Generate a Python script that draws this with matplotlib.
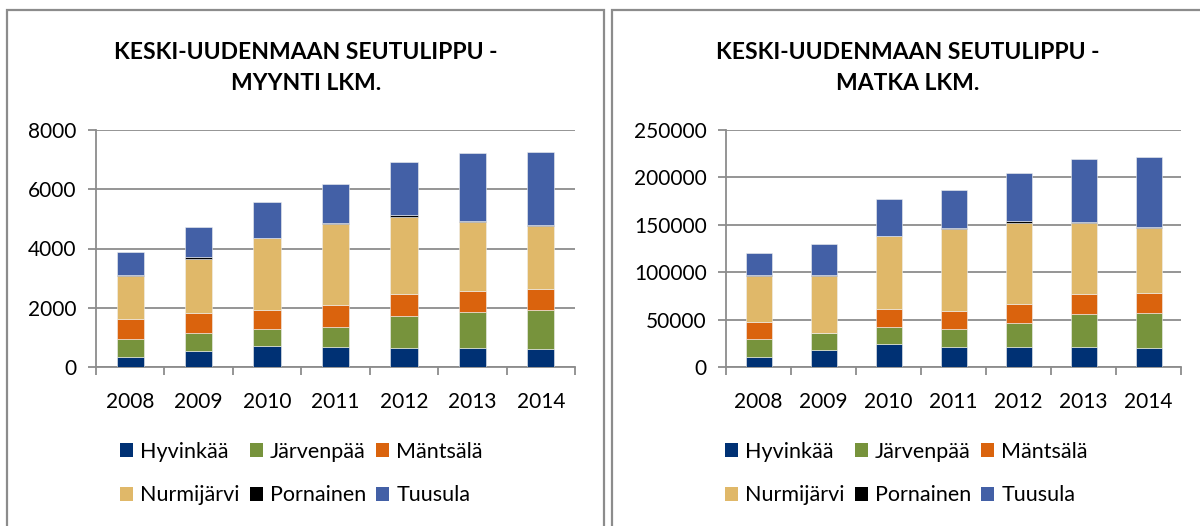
import numpy as np
import matplotlib.pyplot as plt
from matplotlib.patches import Rectangle, Patch

plt.rcParams['font.family'] = ['Lato', 'DejaVu Sans']

years = ['2008', '2009', '2010', '2011', '2012', '2013', '2014']
kunnat = ['Hyvinkää', 'Järvenpää', 'Mäntsälä', 'Nurmijärvi', 'Pornainen', 'Tuusula']
varit = ['#003174', '#77933C', '#DA630D', '#E0B869', '#000000', '#4360A6']

# myynti lkm
myynti = {
    'Hyvinkää':   [330, 530, 700, 660, 650, 640, 620],
    'Järvenpää':  [620, 620, 590, 700, 1080, 1210, 1290],
    'Mäntsälä':   [660, 670, 650, 730, 730, 700, 730],
    'Nurmijärvi': [1450, 1840, 2400, 2730, 2600, 2350, 2110],
    'Pornainen':  [40, 40, 15, 45, 55, 45, 55],
    'Tuusula':    [790, 1030, 1210, 1320, 1790, 2270, 2460],
}

# matka lkm
matka = {
    'Hyvinkää':   [10200, 17600, 24200, 21400, 21100, 21100, 20400],
    'Järvenpää':  [19300, 17900, 17900, 19000, 25300, 35100, 36200],
    'Mäntsälä':   [18300, 0, 18600, 18200, 20000, 20400, 21000],
    'Nurmijärvi': [48100, 60700, 77600, 86700, 85700, 75100, 68800],
    'Pornainen':  [700, 700, 400, 1100, 1700, 1400, 1700],
    'Tuusula':    [23900, 33000, 38200, 40400, 50900, 66000, 73000],
}

W, H = 1200, 526
fig = plt.figure(figsize=(W / 100, H / 100), dpi=100)
harmaa = '#8c8c8c'

# kehykset
fig.patches.append(Rectangle((7 / W, -0.1), 597 / W, 1.1 - 10 / H, transform=fig.transFigure,
                             fill=False, edgecolor=harmaa, lw=1.6))
fig.patches.append(Rectangle((612 / W, -0.1), 0.6, 1.1 - 10 / H, transform=fig.transFigure,
                             fill=False, edgecolor=harmaa, lw=1.6))


def piirra(rect, data, ymax, ystep, otsikko, tx, lx):
    ax = fig.add_axes(rect)
    x = np.arange(len(years))
    pohja = np.zeros(len(years))
    for k, c in zip(kunnat, varit):
        v = np.array(data[k], dtype=float)
        ax.bar(x, v, 0.4, bottom=pohja, color=c, edgecolor='#f0f0f0', linewidth=0.4, zorder=3)
        pohja += v
    ax.set_xlim(-0.5, len(years) - 0.5)
    ax.set_ylim(0, ymax)
    ax.set_yticks(np.arange(0, ymax + 1, ystep))
    ax.yaxis.grid(True, color=harmaa, lw=1.3, zorder=0)
    ax.set_xticks(np.arange(-0.5, len(years)), [''] * (len(years) + 1))
    ax.set_xticks(x, years, minor=True)
    ax.tick_params(axis='x', which='minor', length=0, labelsize=15, pad=18)
    ax.tick_params(axis='x', which='major', length=6, color=harmaa, width=1.3)
    ax.tick_params(axis='y', length=6, color=harmaa, width=1.3, labelsize=15, pad=8)
    for s in ['top', 'right']:
        ax.spines[s].set_visible(False)
    for s in ['left', 'bottom']:
        ax.spines[s].set_color(harmaa)
        ax.spines[s].set_linewidth(1.3)
    fig.text(tx, 1 - 68 / H, otsikko, ha='center', va='center', fontsize=16.5,
             fontweight='bold', linespacing=1.6)
    # legenda: rivit H J M / N P T
    jarj = [0, 3, 1, 4, 2, 5]
    kahvat = [Patch(facecolor=varit[i], label=kunnat[i]) for i in jarj]
    fig.legend(handles=kahvat, ncol=3, loc='center left', bbox_to_anchor=(lx, 1 - 473.5 / H),
               frameon=False, fontsize=15.5, handlelength=0.62, handleheight=0.62,
               handletextpad=0.33, columnspacing=0.45, labelspacing=1.1,
               borderpad=0, borderaxespad=0)
    return ax


piirra([96 / W, 159 / H, 479 / W, 237 / H], myynti, 8000, 2000,
       'KESKI-UUDENMAAN SEUTULIPPU -\nMYYNTI LKM.', 306 / W, 120 / W)
piirra([726 / W, 159 / H, 455 / W, 237 / H], matka, 250000, 50000,
       'KESKI-UUDENMAAN SEUTULIPPU -\nMATKA LKM.', 908 / W, 725 / W)

fig.savefig('out.png', dpi=100)
